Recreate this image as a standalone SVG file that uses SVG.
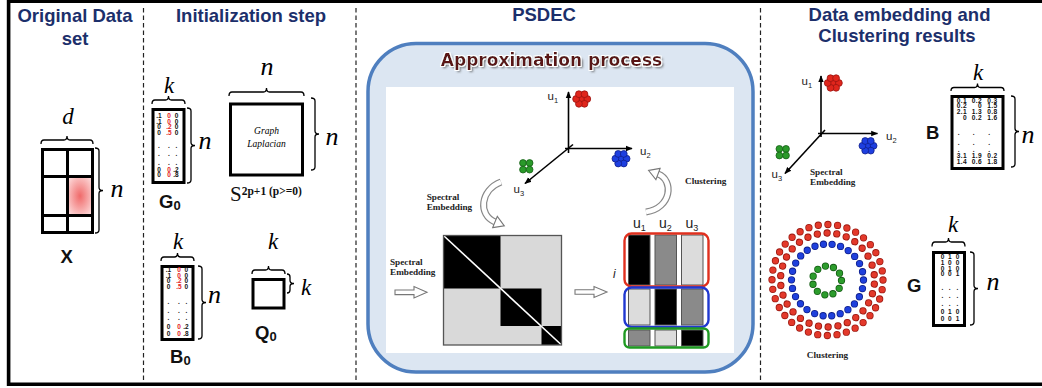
<svg xmlns="http://www.w3.org/2000/svg" width="1042" height="388" viewBox="0 0 1042 388">
<defs>
<style>
.title{font-family:"Liberation Sans",Arial,sans-serif;font-weight:bold;font-size:18.5px;fill:#1c2f6b;text-anchor:middle}
.it{font-family:"Liberation Serif","Times New Roman",serif;font-style:italic;text-anchor:middle;fill:#000}
.lbl{font-family:"Liberation Sans",Arial,sans-serif;font-weight:bold;font-size:18.5px;fill:#111}
.num{font-family:"Liberation Sans",Arial,sans-serif;font-weight:bold;font-size:6.5px;fill:#111;text-anchor:middle}
.numb{font-family:"Liberation Sans",Arial,sans-serif;font-weight:bold;font-size:6.6px;letter-spacing:0.35px;fill:#111;text-anchor:end}
.r{fill:#e3201b}
.box{fill:#fff;stroke:#000;stroke-width:3}
.brace{fill:none;stroke:#000;stroke-width:1.3}
.sep{stroke:#222;stroke-width:1.2;stroke-dasharray:4.5 3}
.cap{font-family:"Liberation Serif","Times New Roman",serif;font-weight:bold;font-size:9.2px;fill:#222}
.ax{stroke:#000;stroke-width:1.6;fill:none}
.u{font-family:"Liberation Sans",Arial,sans-serif;font-size:11.5px;fill:#222}
.uc{font-family:"Liberation Sans",Arial,sans-serif;font-size:14px;fill:#222}
.hollow{fill:#fff;stroke:#777;stroke-width:1.1}
.cell{stroke:#555;stroke-width:1}
.ring{fill:none;stroke-linecap:round}
.cl{stroke-width:0.8}
</style>
<marker id="ah" viewBox="0 0 10 10" refX="9" refY="5" markerWidth="7" markerHeight="7" orient="auto" markerUnits="userSpaceOnUse"><path d="M0,1 L10,5 L0,9 z" fill="#000"/></marker>
<radialGradient id="pink" cx="0.5" cy="0.5" r="0.6">
<stop offset="0" stop-color="#f06a6a"/>
<stop offset="1" stop-color="#fcd6d6"/>
</radialGradient>
<filter id="glow" x="-10%" y="-40%" width="120%" height="180%">
<feGaussianBlur in="SourceAlpha" stdDeviation="1.2" result="b"/>
<feOffset in="b" dx="1.5" dy="2" result="o"/>
<feFlood flood-color="#444" flood-opacity="0.75"/>
<feComposite in2="o" operator="in" result="sh"/>
<feMorphology in="SourceAlpha" operator="dilate" radius="1" result="d"/>
<feFlood flood-color="#fff"/>
<feComposite in2="d" operator="in" result="w"/>
<feMerge><feMergeNode in="sh"/><feMergeNode in="w"/><feMergeNode in="SourceGraphic"/></feMerge>
</filter>
<g id="cl7" class="cl">
<circle cx="0" cy="0" r="3.4"/><circle cx="5.6" cy="0" r="3.4"/><circle cx="2.8" cy="4.8" r="3.4"/><circle cx="-2.8" cy="4.8" r="3.4"/><circle cx="-5.6" cy="0" r="3.4"/><circle cx="-2.8" cy="-4.8" r="3.4"/><circle cx="2.8" cy="-4.8" r="3.4"/>
</g>
<g id="cl4" class="cl">
<circle cx="-3.3" cy="-3.3" r="3.4"/><circle cx="3.3" cy="-3.3" r="3.4"/><circle cx="-3.3" cy="3.3" r="3.4"/><circle cx="3.3" cy="3.3" r="3.4"/>
</g>
</defs>

<rect width="1042" height="388" fill="#fff"/>

<g id="frame">
<path d="M1050,383.5 H10.5 V3" fill="none" stroke="#bbb" stroke-width="1"/>
<path d="M1050,1.3 H8.5 V384.3 H1050" fill="none" stroke="#000" stroke-width="3.4"/>
<line class="sep" x1="143.5" y1="8" x2="143.5" y2="380"/>
<line class="sep" x1="356" y1="8" x2="356" y2="380"/>
<line class="sep" x1="760.5" y1="8" x2="760.5" y2="380"/>
</g>

<g id="titles">
<text class="title" x="75" y="22">Original Data</text>
<text class="title" x="75" y="45">set</text>
<text class="title" x="251" y="22">Initialization step</text>
<text class="title" x="544" y="21">PSDEC</text>
<text class="title" x="899.5" y="21">Data embedding and</text>
<text class="title" x="897" y="41.5">Clustering results</text>
</g>

<g id="node-X">
<rect x="67.5" y="176.5" width="25" height="39" fill="url(#pink)"/>
<rect x="42.5" y="149.5" width="50" height="83" fill="none" stroke="#000" stroke-width="3"/>
<line x1="67.5" y1="149.5" x2="67.5" y2="232.5" stroke="#000" stroke-width="3"/>
<line x1="42.5" y1="176.5" x2="92.5" y2="176.5" stroke="#000" stroke-width="3"/>
<line x1="42.5" y1="215.5" x2="92.5" y2="215.5" stroke="#000" stroke-width="3"/>
<path class="brace" d="M41 144 Q41 140 44 140 H64 Q67 140 67 136 Q67 140 70 140 H90 Q93 140 93 144"/>
<path class="brace" d="M95 148 Q99 148 99 151 V187.5 Q99 190.5 103 190.5 Q99 190.5 99 193.5 V230 Q99 233 95 233"/>
<text class="it" x="68" y="124" font-size="23">d</text>
<text class="it" x="117" y="197" font-size="26">n</text>
<text class="lbl" x="66.7" y="262.7" text-anchor="middle">X</text>
</g>

<g id="node-G0">
<rect class="box" x="153" y="109.5" width="31" height="73"/>
<path class="brace" d="M152 104 Q152 100 155 100 H165.5 Q168.5 100 168.5 96 Q168.5 100 171.5 100 H182 Q185 100 185 104"/>
<path class="brace" d="M187 108 Q191 108 191 111 V142.5 Q191 145.5 195 145.5 Q191 145.5 191 148.5 V180 Q191 183 187 183"/>
<text class="it" x="169" y="93" font-size="23">k</text>
<text class="it" x="205" y="149" font-size="26">n</text>
<text class="num"><tspan x="159" y="118">.1</tspan><tspan x="169" y="118" class="r">0</tspan><tspan x="176.5" y="118">0</tspan><tspan x="159" y="123.6">.1</tspan><tspan x="169" y="123.6" class="r">0</tspan><tspan x="176.5" y="123.6">0</tspan><tspan x="159" y="129.2">0</tspan><tspan x="169" y="129.2" class="r">.2</tspan><tspan x="176.5" y="129.2">0</tspan><tspan x="159" y="134.8">0</tspan><tspan x="169" y="134.8" class="r">.5</tspan><tspan x="176.5" y="134.8">0</tspan><tspan x="159" y="148">.</tspan><tspan x="169" y="148">.</tspan><tspan x="176.5" y="148">.</tspan><tspan x="159" y="156">.</tspan><tspan x="169" y="156">.</tspan><tspan x="176.5" y="156">.</tspan><tspan x="159" y="164.5">.</tspan><tspan x="169" y="164.5">.</tspan><tspan x="176.5" y="164.5">.</tspan><tspan x="159" y="171.5">0</tspan><tspan x="169" y="171.5" class="r">0</tspan><tspan x="176" y="171.5">.2</tspan><tspan x="159" y="177.2">0</tspan><tspan x="169" y="177.2" class="r">0</tspan><tspan x="176" y="177.2">.8</tspan></text>
<text class="lbl" x="159" y="208">G<tspan font-size="13" dy="2">0</tspan></text>
</g>

<g id="node-S">
<rect class="box" x="230.5" y="104" width="72" height="71"/>
<path class="brace" d="M229 96 Q229 92 232 92 H263.5 Q266.5 92 266.5 88 Q266.5 92 269.5 92 H301 Q304 92 304 96"/>
<path class="brace" d="M311 98 Q315 98 315 101 V131 Q315 134 319 134 Q315 134 315 137 V167 Q315 170 311 170"/>
<text class="it" x="267" y="75" font-size="26">n</text>
<text class="it" x="332" y="145" font-size="26">n</text>
<text class="it" x="266.5" font-size="9.5"><tspan x="266.5" y="134">Graph</tspan><tspan x="266.5" y="147">Laplacian</tspan></text>
<text x="230" y="201" font-family="Liberation Serif, Times New Roman, serif" font-size="21" fill="#111">S<tspan font-size="11.5" font-weight="bold" dy="-6.5">2p+1 (p&gt;=0)</tspan></text>
</g>

<g id="node-B0">
<rect class="box" x="162" y="266.5" width="31" height="73"/>
<path class="brace" d="M161 261 Q161 257 164 257 H174.5 Q177.5 257 177.5 253 Q177.5 257 180.5 257 H191 Q194 257 194 261"/>
<path class="brace" d="M198 266 Q202 266 202 269 V299.5 Q202 302.5 206 302.5 Q202 302.5 202 305.5 V336 Q202 339 198 339"/>
<text class="it" x="178" y="249" font-size="23">k</text>
<text class="it" x="214.5" y="303" font-size="26">n</text>
<text class="num"><tspan x="168.5" y="272.3">.1</tspan><tspan x="179" y="272.3" class="r">0</tspan><tspan x="186.3" y="272.3">0</tspan><tspan x="168.5" y="277.8">.1</tspan><tspan x="179" y="277.8" class="r">0</tspan><tspan x="186.3" y="277.8">0</tspan><tspan x="168.5" y="283.3">0</tspan><tspan x="179" y="283.3" class="r">.2</tspan><tspan x="186.3" y="283.3">0</tspan><tspan x="168.5" y="288.8">0</tspan><tspan x="179" y="288.8" class="r">.5</tspan><tspan x="186.3" y="288.8">0</tspan><tspan x="168.5" y="304.3">.</tspan><tspan x="179" y="304.3">.</tspan><tspan x="186.3" y="304.3">.</tspan><tspan x="168.5" y="312.5">.</tspan><tspan x="179" y="312.5">.</tspan><tspan x="186.3" y="312.5">.</tspan><tspan x="168.5" y="320.1">.</tspan><tspan x="179" y="320.1">.</tspan><tspan x="186.3" y="320.1">.</tspan><tspan x="168.5" y="329.4">0</tspan><tspan x="179" y="329.4" class="r">0</tspan><tspan x="186" y="329.4">.2</tspan><tspan x="168.5" y="335.8">0</tspan><tspan x="179" y="335.8" class="r">0</tspan><tspan x="186" y="335.8">.8</tspan></text>
<text class="lbl" x="170" y="363">B<tspan font-size="13" dy="2">0</tspan></text>
</g>

<g id="node-Q0">
<rect class="box" x="253" y="279.5" width="31" height="28.5"/>
<path class="brace" d="M252 274 Q252 270 255 270 H265.5 Q268.5 270 268.5 266 Q268.5 270 271.5 270 H282 Q285 270 285 274"/>
<path class="brace" d="M287 274 Q290 274 290 277 V280.5 Q290 283.5 294 283.5 Q290 283.5 290 286.5 V290 Q290 293 287 293"/>
<text class="it" x="273" y="249" font-size="23">k</text>
<text class="it" x="306" y="295" font-size="23">k</text>
<text class="lbl" x="255" y="338.5">Q<tspan font-size="13" dy="2">0</tspan></text>
</g>

<g id="node-PSDEC">
<rect x="368" y="43.5" width="385" height="328.5" rx="48" ry="48" fill="#dce6f2" stroke="#4f7fbf" stroke-width="3.5"/>
<text x="551.5" y="66" text-anchor="middle" font-family="DejaVu Sans, Verdana, sans-serif" font-weight="bold" font-size="17" fill="#5a1616" filter="url(#glow)">Approximation process</text>
<rect x="386" y="87" width="348" height="266" fill="#fff"/>
</g>

<g id="node-embed3d">
<path class="ax" d="M568.5,153 V92" marker-end="url(#ah)"/>
<path class="ax" d="M565,148.5 H632" marker-end="url(#ah)"/>
<path class="ax" d="M573,144.5 L525,183.5" marker-end="url(#ah)"/>
<use href="#cl7" x="581.7" y="99" fill="#e0261c" stroke="#9a1410"/>
<use href="#cl7" x="621" y="158.7" fill="#1e3fe0" stroke="#10208a"/>
<use href="#cl4" x="526.3" y="166.3" fill="#2a9a2a" stroke="#156015"/>
<text class="u" x="547.5" y="100">u<tspan font-size="7.5" dy="3">1</tspan></text>
<text class="u" x="640" y="155">u<tspan font-size="7.5" dy="3">2</tspan></text>
<text class="u" x="513.5" y="193">u<tspan font-size="7.5" dy="3">3</tspan></text>
<text class="cap"><tspan x="426.7" y="199.5">Spectral</tspan><tspan x="426.7" y="209.5">Embedding</tspan></text>
<text class="cap" x="685" y="184">Clustering</text>
</g>

<g id="node-affinity">
<rect x="443.5" y="235.5" width="118" height="109.5" fill="#d9d9d9"/>
<rect x="443.5" y="235.5" width="57" height="53" fill="#000"/>
<rect x="500.5" y="288.5" width="41" height="37.5" fill="#000"/>
<rect x="541.5" y="326" width="20" height="19" fill="#000"/>
<line x1="444" y1="236" x2="561" y2="344.5" stroke="#fff" stroke-width="1.6"/>
<rect x="443.5" y="235.5" width="118" height="109.5" fill="none" stroke="#555" stroke-width="1.3"/>
<text class="cap"><tspan x="390" y="265">Spectral</tspan><tspan x="390" y="275">Embedding</tspan></text>
</g>

<g id="node-indicator">
<text class="uc" x="633" y="228">u<tspan font-size="9" dy="3">1</tspan></text>
<text class="uc" x="659" y="228">u<tspan font-size="9" dy="3">2</tspan></text>
<text class="uc" x="685.5" y="228">u<tspan font-size="9" dy="3">3</tspan></text>
<text x="613" y="278" font-family="Liberation Sans, Arial, sans-serif" font-style="italic" font-size="12" fill="#222">i</text>
<rect class="cell" x="628.5" y="235" width="21.5" height="50" fill="#000"/>
<rect class="cell" x="655" y="235" width="21.5" height="50" fill="#8a8a8a"/>
<rect class="cell" x="681.5" y="235" width="21.5" height="50" fill="#dcdcdc"/>
<rect class="cell" x="628.5" y="289" width="21.5" height="36" fill="#dcdcdc"/>
<rect class="cell" x="655" y="289" width="21.5" height="36" fill="#000"/>
<rect class="cell" x="681.5" y="289" width="21.5" height="36" fill="#8a8a8a"/>
<rect class="cell" x="628.5" y="330" width="21.5" height="16" fill="#8a8a8a"/>
<rect class="cell" x="655" y="330" width="21.5" height="16" fill="#dcdcdc"/>
<rect class="cell" x="681.5" y="330" width="21.5" height="16" fill="#000"/>
<rect x="624.5" y="233.5" width="84" height="53" rx="7" fill="none" stroke="#e0301e" stroke-width="2.4"/>
<rect x="624.5" y="287.5" width="84" height="39.5" rx="7" fill="none" stroke="#2038d0" stroke-width="2.4"/>
<rect x="624.5" y="328.5" width="84" height="19" rx="5" fill="none" stroke="#1f9a22" stroke-width="2.4"/>
</g>

<g id="connectors">
<path d="M501,182 C480,190 478,215 495,222" fill="none" stroke="#888" stroke-width="7"/>
<path d="M501,182 C480,190 478,215 495,222" fill="none" stroke="#fff" stroke-width="4.6"/>
<polygon class="hollow" points="492.7,227.6 504.3,225.8 497.3,216.4"/>
<path d="M646,212 C672,208 674,180 658,174" fill="none" stroke="#888" stroke-width="7"/>
<path d="M646,212 C672,208 674,180 658,174" fill="none" stroke="#fff" stroke-width="4.6"/>
<polygon class="hollow" points="660.1,168.4 648.6,170.5 655.9,179.6"/>
<path class="hollow" d="M395,290 H414 V286.5 L427,292.3 L414,298 V294.6 H395 Z"/>
<path class="hollow" d="M575,289.8 H594 V286.5 L607,292 L594,297.5 V294.2 H575 Z"/>
</g>

<g id="node-embedding">
<path class="ax" d="M821,137 V76" marker-end="url(#ah)"/>
<path class="ax" d="M818,133.5 H877.5" marker-end="url(#ah)"/>
<path class="ax" d="M825,130 L785,173.5" marker-end="url(#ah)"/>
<use href="#cl7" x="833.3" y="83" fill="#e0261c" stroke="#9a1410"/>
<use href="#cl7" x="868" y="145.8" fill="#1e3fe0" stroke="#10208a"/>
<use href="#cl4" x="782.7" y="152.2" fill="#2a9a2a" stroke="#156015"/>
<text class="u" x="801.5" y="85">u<tspan font-size="7.5" dy="3">1</tspan></text>
<text class="u" x="886" y="140">u<tspan font-size="7.5" dy="3">2</tspan></text>
<text class="u" x="771.5" y="178.3">u<tspan font-size="7.5" dy="3">3</tspan></text>
<text class="cap" font-size="8.3"><tspan x="810" y="174.5">Spectral</tspan><tspan x="810" y="184.5">Embedding</tspan></text>
</g>

<g id="node-B">
<rect class="box" x="952" y="96.5" width="51" height="72"/>
<path class="brace" d="M951 91 Q951 87.5 954 87.5 H974.5 Q977.5 87.5 977.5 83.5 Q977.5 87.5 980.5 87.5 H1001 Q1004 87.5 1004 91"/>
<path class="brace" d="M1011 96 Q1015 96 1015 99 V128.5 Q1015 131.5 1019 131.5 Q1015 131.5 1015 134.5 V164 Q1015 167 1011 167"/>
<text class="it" x="978" y="80" font-size="23">k</text>
<text class="it" x="1028" y="143" font-size="26" text-anchor="start">n</text>
<text class="lbl" x="926" y="139" font-size="18">B</text>
<text class="numb"><tspan x="967" y="102.5">0.1</tspan><tspan x="982" y="102.5">0.2</tspan><tspan x="997.5" y="102.5">0.3</tspan><tspan x="967" y="108.3">0.2</tspan><tspan x="982" y="108.3">0</tspan><tspan x="997.5" y="108.3">1.5</tspan><tspan x="967" y="114.1">2.1</tspan><tspan x="982" y="114.1">1.3</tspan><tspan x="997.5" y="114.1">0.8</tspan><tspan x="967" y="119.9">0</tspan><tspan x="982" y="119.9">0.2</tspan><tspan x="997.5" y="119.9">1.6</tspan><tspan x="960" y="135">.</tspan><tspan x="975" y="135">.</tspan><tspan x="990.5" y="135">.</tspan><tspan x="960" y="144.5">.</tspan><tspan x="975" y="144.5">.</tspan><tspan x="990.5" y="144.5">.</tspan><tspan x="960" y="152">.</tspan><tspan x="975" y="152">.</tspan><tspan x="990.5" y="152">.</tspan><tspan x="967" y="158">3.1</tspan><tspan x="982" y="158">1.9</tspan><tspan x="997.5" y="158">0.2</tspan><tspan x="967" y="164.3">1.4</tspan><tspan x="982" y="164.3">0.6</tspan><tspan x="997.5" y="164.3">1.8</tspan></text>
</g>

<g id="node-rings">
<circle class="ring" cx="827.5" cy="280" r="55.5" stroke="#9c1a12" stroke-width="7.3" stroke-dasharray="0 9.6866"/>
<circle class="ring" cx="827.5" cy="280" r="55.5" stroke="#e3392b" stroke-width="5.7" stroke-dasharray="0 9.6866"/>
<circle class="ring" cx="827.5" cy="280" r="47" stroke="#9c1a12" stroke-width="7.3" stroke-dasharray="0 9.8437" transform="rotate(5 827.5 280)"/>
<circle class="ring" cx="827.5" cy="280" r="47" stroke="#e3392b" stroke-width="5.7" stroke-dasharray="0 9.8437" transform="rotate(5 827.5 280)"/>
<circle class="ring" cx="827.5" cy="280" r="36" stroke="#0f1f8a" stroke-width="7.3" stroke-dasharray="0 8.6998"/>
<circle class="ring" cx="827.5" cy="280" r="36" stroke="#1f40dc" stroke-width="5.7" stroke-dasharray="0 8.6998"/>
<circle class="ring" cx="827" cy="280.5" r="14.5" stroke="#145c14" stroke-width="7.3" stroke-dasharray="0 8.2824"/>
<circle class="ring" cx="827" cy="280.5" r="14.5" stroke="#2c9c2c" stroke-width="5.7" stroke-dasharray="0 8.2824"/>
<text class="cap" x="827.5" y="357.5" text-anchor="middle">Clustering</text>
</g>

<g id="node-G">
<rect class="box" x="933.5" y="252.5" width="31" height="73"/>
<path class="brace" d="M932 246.5 Q932 242 935 242 H945.5 Q948.5 242 948.5 238 Q948.5 242 951.5 242 H962 Q965 242 965 246.5"/>
<path class="brace" d="M970 252 Q974 252 974 255 V285.5 Q974 288.5 978 288.5 Q974 288.5 974 291.5 V322 Q974 325 970 325"/>
<text class="it" x="953" y="231.5" font-size="23">k</text>
<text class="it" x="993" y="290" font-size="26">n</text>
<text class="lbl" x="907" y="292">G</text>
<text class="num"><tspan x="942.5" y="259.3">0</tspan><tspan x="949.7" y="259.3">1</tspan><tspan x="957.5" y="259.3">0</tspan><tspan x="942.5" y="265">1</tspan><tspan x="949.7" y="265">0</tspan><tspan x="957.5" y="265">0</tspan><tspan x="942.5" y="270.7">0</tspan><tspan x="949.7" y="270.7">1</tspan><tspan x="957.5" y="270.7">0</tspan><tspan x="942.5" y="276.2">0</tspan><tspan x="949.7" y="276.2">0</tspan><tspan x="957.5" y="276.2">1</tspan><tspan x="942.5" y="290">.</tspan><tspan x="949.7" y="290">.</tspan><tspan x="957.5" y="290">.</tspan><tspan x="942.5" y="298">.</tspan><tspan x="949.7" y="298">.</tspan><tspan x="957.5" y="298">.</tspan><tspan x="942.5" y="306">.</tspan><tspan x="949.7" y="306">.</tspan><tspan x="957.5" y="306">.</tspan><tspan x="942.5" y="314.3">0</tspan><tspan x="949.7" y="314.3">1</tspan><tspan x="957.5" y="314.3">0</tspan><tspan x="942.5" y="321">0</tspan><tspan x="949.7" y="321">0</tspan><tspan x="957.5" y="321">1</tspan></text>
</g>
</svg>
